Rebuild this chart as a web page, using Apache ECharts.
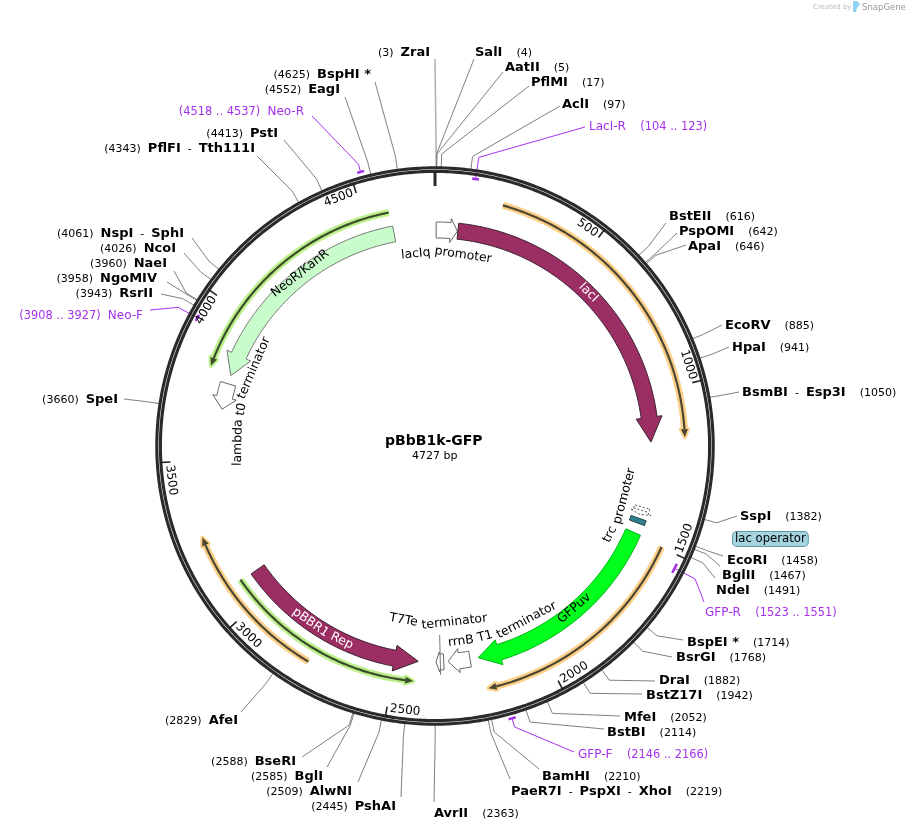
<!DOCTYPE html>
<html>
<head>
<meta charset="utf-8">
<title>pBbB1k-GFP</title>
<script src="https://cdn.jsdelivr.net/npm/echarts@6/dist/echarts.min.js"></script>
<style>
	html,body{margin:0;padding:0;background:#fff;}
	#map{width:910px;height:831px;}
</style>
</head>
<body>
<div id="map"></div>
<script type="text/javascript">
// plasmid data
var plasmidName = 'pBbB1k-GFP';
var plasmidLength = 4727;
var tickValues = [500, 1000, 1500, 2000, 2500, 3000, 3500, 4000, 4500];

var siteNames = ['ZraI', 'SalI', 'AatII', 'PflMI', 'AclI', 'BstEII', 'PspOMI', 'ApaI', 'EcoRV', 'HpaI', 'BsmBI - Esp3I', 'SspI', 'EcoRI', 'BglII', 'NdeI', 'BspEI *', 'BsrGI', 'DraI', 'BstZ17I', 'MfeI', 'BstBI', 'BamHI', 'PaeR7I - PspXI - XhoI', 'AvrII', 'PshAI', 'AlwNI', 'BglI', 'BseRI', 'AfeI', 'SpeI', 'RsrII', 'NgoMIV', 'NaeI', 'NcoI', 'NspI - SphI', 'PflFI - Tth111I', 'PstI', 'EagI', 'BspHI *'];
var sitePositions = [3, 4, 5, 17, 97, 616, 642, 646, 885, 941, 1050, 1382, 1458, 1467, 1491, 1714, 1768, 1882, 1942, 2052, 2114, 2210, 2219, 2363, 2445, 2509, 2585, 2588, 2829, 3660, 3943, 3958, 3960, 4026, 4061, 4343, 4413, 4552, 4625];

var primerNames = ['LacI-R', 'GFP-R', 'GFP-F', 'Neo-F', 'Neo-R'];
var primerStarts = [104, 1523, 2146, 3908, 4518];
var primerEnds = [123, 1551, 2166, 3927, 4537];

// from = flat end, to = arrow tip
var featureNames = ['lacIq promoter', 'lacI', 'trc promoter', 'lac operator', 'GFPuv', 'rrnB T1 terminator', 'T7Te terminator', 'pBBR1 Rep', 'lambda t0 terminator', 'NeoR/KanR'];
var featureFrom = [4, 80, 1397, 1438, 1490, 2241, 2333, 3088, 3765, 4584];
var featureTo = [78, 1168, 1424, 1455, 2212, 2318, 2360, 2422, 3674, 3795];

var orfFrom = [207, 1497, 2763, 3092, 4580];
var orfTo = [1155, 2200, 3263, 2433, 3804];

// layout, styles
var cx = 435, cy = 446, bandIn = 208, bandOut = 224, elbowR = 292;
var featureStyles = {
	'lacIq promoter': {fill: '#fff', stroke: '#666', head: 24, over: 4},
	'lacI': {fill: '#9b2e63', stroke: '#3a2030', head: 86, over: 5},
	'trc promoter': {fill: '#fff', stroke: '#555', head: 8, over: 3, dash: [2, 2]},
	'lac operator': {fill: '#31808f', stroke: '#1e3f48', head: 0, over: 0},
	'GFPuv': {fill: '#00ff1c', stroke: '#00b414', head: 75, over: 5},
	'rrnB T1 terminator': {fill: '#fff', stroke: '#666', head: 38, over: 4},
	'T7Te terminator': {fill: '#fff', stroke: '#666', head: 12, over: 2},
	'pBBR1 Rep': {fill: '#9b2e63', stroke: '#3a2030', head: 83, over: 5},
	'lambda t0 terminator': {fill: '#fff', stroke: '#666', head: 42, over: 4},
	'NeoR/KanR': {fill: '#c9fccb', stroke: '#777', head: 75, over: 5}
};
var featureLabels = {
	'lacIq promoter': {r: 193, bp: 45},
	'lacI': {r: 217, bp: 591, fill: '#fff'},
	'trc promoter': {r: 196, bp: 1416},
	'GFPuv': {r: 214, bp: 1830},
	'rrnB T1 terminator': {r: 197, bp: 2094},
	'T7Te terminator': {r: 177, bp: 2350},
	'pBBR1 Rep': {r: 216, bp: 2778, fill: '#fff'},
	'lambda t0 terminator': {r: 197, bp: 3723},
	'NeoR/KanR': {r: 219, bp: 4228}
};
var orfStyles = [
	{r: 250, halo: '#fdd08a', line: '#4d4732'},
	{r: 248, halo: '#fdd08a', line: '#4d4732'},
	{r: 250, halo: '#fdd08a', line: '#4d4732'},
	{r: 236, halo: '#bdf08c', line: '#3b4d2a'},
	{r: 238, halo: '#bdf08c', line: '#3b4d2a'}
];
// text: x, y, side (label alignment) / end: where the leader stops
var siteLayout = {
	'ZraI': {x: 430, y: 52, side: 'right', end: [435, 59]},
	'SalI': {x: 475, y: 52, side: 'left', end: [474, 59]},
	'AatII': {x: 505, y: 67, side: 'left', end: [503, 72]},
	'PflMI': {x: 531, y: 82, side: 'left', end: [529, 86]},
	'AclI': {x: 562, y: 104, side: 'left', end: [560, 106]},
	'BstEII': {x: 669, y: 216, side: 'left', end: [666, 223]},
	'PspOMI': {x: 679, y: 231, side: 'left', end: [677, 233]},
	'ApaI': {x: 688, y: 246, side: 'left', end: [686, 245]},
	'EcoRV': {x: 725, y: 325, side: 'left', end: [722, 325]},
	'HpaI': {x: 732, y: 347, side: 'left', end: [729, 347]},
	'BsmBI - Esp3I': {x: 742, y: 392, side: 'left', end: [739, 392]},
	'SspI': {x: 740, y: 516, side: 'left', end: [737, 516]},
	'EcoRI': {x: 727, y: 560, side: 'left', end: [723, 556]},
	'BglII': {x: 722, y: 575, side: 'left', end: [720, 566]},
	'NdeI': {x: 716, y: 590, side: 'left', end: [715, 578]},
	'BspEI *': {x: 687, y: 642, side: 'left', end: [683, 640]},
	'BsrGI': {x: 676, y: 657, side: 'left', end: [672, 657]},
	'DraI': {x: 659, y: 680, side: 'left', end: [655, 681]},
	'BstZ17I': {x: 646, y: 695, side: 'left', end: [642, 694]},
	'MfeI': {x: 624, y: 717, side: 'left', end: [620, 716]},
	'BstBI': {x: 607, y: 732, side: 'left', end: [604, 729]},
	'BamHI': {x: 542, y: 776, side: 'left', end: [539, 769]},
	'PaeR7I - PspXI - XhoI': {x: 511, y: 791, side: 'left', end: [510, 779]},
	'AvrII': {x: 434, y: 813, side: 'left', end: [434, 802]},
	'PshAI': {x: 396, y: 806, side: 'right', end: [401, 797]},
	'AlwNI': {x: 352, y: 791, side: 'right', end: [358, 782]},
	'BglI': {x: 323, y: 776, side: 'right', end: [327, 767]},
	'BseRI': {x: 296, y: 761, side: 'right', end: [302, 757]},
	'AfeI': {x: 238, y: 720, side: 'right', end: [241, 712]},
	'SpeI': {x: 118, y: 399, side: 'right', end: [124, 399]},
	'RsrII': {x: 153, y: 293, side: 'right', end: [161, 294]},
	'NgoMIV': {x: 157, y: 278, side: 'right', end: [167, 282]},
	'NaeI': {x: 167, y: 263, side: 'right', end: [174, 271]},
	'NcoI': {x: 176, y: 248, side: 'right', end: [184, 253]},
	'NspI - SphI': {x: 184, y: 233, side: 'right', end: [192, 238]},
	'PflFI - Tth111I': {x: 255, y: 148, side: 'right', end: [257, 156]},
	'PstI': {x: 278, y: 133, side: 'right', end: [284, 140]},
	'EagI': {x: 340, y: 89, side: 'right', end: [345, 97]},
	'BspHI *': {x: 371, y: 74, side: 'right', end: [375, 82]}
};
var primerLayout = {
	'LacI-R': {r: 270, x: 589, y: 126, side: 'left', end: [585, 127]},
	'GFP-R': {r: 269, x: 705, y: 612, side: 'left', end: [704, 602]},
	'GFP-F': {r: 283, x: 578, y: 754, side: 'left', end: [574, 752]},
	'Neo-F': {r: 270, x: 143, y: 315, side: 'right', end: [150, 310]},
	'Neo-R': {r: 284, x: 304, y: 111, side: 'right', end: [312, 116]}
};
var PURPLE = '#a431ec';

function bpAngle(bp) {
	return bp / plasmidLength * Math.PI * 2;
}
function pxToBp(px, r) {
	return px / r * plasmidLength / (Math.PI * 2);
}
function arc(api, r, from, to) {
	var n = Math.max(2, Math.ceil(Math.abs(to - from) / 8)), pts = [];
	for (var i = 0; i <= n; i++) {
		var p = api.coord([r, from + (to - from) * i / n]);
		pts.push([p[0], p[1]]);
	}
	return pts;
}
function pt(api, r, bp) {
	var p = api.coord([r, bp]);
	return [p[0], p[1]];
}
function isFlipped(bp) {
	var a = bpAngle(bp);
	return a > Math.PI / 2 && a < Math.PI * 1.5;
}
function textRotation(bp, flipped) {
	var a = bpAngle(bp);
	return flipped ? Math.PI - a : -a;
}
var measureCtx = document.createElement('canvas').getContext('2d');

// words follow the circle, one text element per word
function curvedWords(api, text, r, bp, font, fill) {
	measureCtx.font = font;
	var words = text.split(' '), space = measureCtx.measureText(' ').width;
	var widths = words.map(function (w) { return measureCtx.measureText(w).width; });
	var total = widths.reduce(function (a, b) { return a + b; }, 0) + space * (words.length - 1);
	var flipped = isFlipped(bp), dir = flipped ? -1 : 1, offset = -total / 2, out = [];
	words.forEach(function (w, i) {
		var b = bp + dir * pxToBp(offset + widths[i] / 2, r);
		var p = pt(api, r, b);
		out.push({
			type: 'text', x: p[0], y: p[1], rotation: textRotation(b, flipped), silent: true,
			style: {text: w, x: 0, y: 0, font: font, fill: fill, align: 'center', verticalAlign: 'middle'}
		});
		offset += widths[i] + space;
	});
	return out;
}

function siteRich(name, pos, side) {
	var names = name.split(' - ').map(function (n) { return '{b|' + n + '}'; }).join('  -  ');
	return side === 'right' ? '(' + pos + ')  ' + names : names + '    (' + pos + ')';
}
var siteRichStyles = {b: {font: 'bold 13px "DejaVu Sans"', fill: '#000'}};

var ringSeries = {
	type: 'custom', coordinateSystem: 'polar', silent: true, z: 5, clip: false,
	data: [[278, 0]],
	renderItem: function (params, api) {
		var full = arc(api, 278.2, 0, plasmidLength), inner = arc(api, 274.6, 0, plasmidLength);
		var ls = {stroke: '#2a2a2a', lineWidth: 3.1, fill: 'none'};
		var tip = [pt(api, 276, 0), pt(api, 260, 0)];
		return {type: 'group', children: [
			{type: 'polygon', shape: {points: full}, style: ls},
			{type: 'polygon', shape: {points: inner}, style: ls},
			{type: 'polyline', shape: {points: tip}, style: {stroke: '#2a2a2a', lineWidth: 3, fill: 'none'}}
		]};
	}
};

var tickSeries = {
	type: 'custom', coordinateSystem: 'polar', silent: true, z: 6, clip: false,
	data: tickValues.map(function (t) { return [266, t]; }),
	renderItem: function (params, api) {
		var t = tickValues[params.dataIndex], label = String(t);
		var font = '12px "DejaVu Sans"', flipped;
		measureCtx.font = font;
		var b = t - pxToBp(measureCtx.measureText(label).width / 2 + 3, 266);
		flipped = isFlipped(b);
		var p = pt(api, 266, b);
		return {type: 'group', children: [
			{type: 'polyline', shape: {points: [pt(api, 275, t), pt(api, 265, t)]}, style: {stroke: '#222', lineWidth: 1.6, fill: 'none'}},
			{type: 'text', x: p[0], y: p[1], rotation: textRotation(b, flipped), style: {text: label, x: 0, y: 0, font: font, fill: '#000', align: 'center', verticalAlign: 'middle'}}
		]};
	}
};

var siteSeries = {
	type: 'custom', coordinateSystem: 'polar', silent: true, z: 2, clip: false,
	data: sitePositions.map(function (p) { return [elbowR, p]; }),
	renderItem: function (params, api) {
		var name = siteNames[params.dataIndex], pos = sitePositions[params.dataIndex], lay = siteLayout[name];
		var main = name === 'ZraI';
		return {type: 'group', children: [
			{type: 'polyline', shape: {points: [pt(api, 279, pos), pt(api, elbowR, pos), lay.end]},
				style: {stroke: main ? '#b4b4b4' : '#808080', lineWidth: main ? 1.6 : 1, fill: 'none'}},
			{type: 'text', style: {x: lay.x, y: lay.y + 1, text: siteRich(name, pos, lay.side), rich: siteRichStyles,
				font: '11px "DejaVu Sans"', fill: '#000', align: lay.side, verticalAlign: 'middle'}}
		]};
	}
};

var primerSeries = {
	type: 'custom', coordinateSystem: 'polar', silent: true, z: 3, clip: false,
	data: primerStarts.map(function (p) { return [elbowR, p]; }),
	renderItem: function (params, api) {
		var i = params.dataIndex, name = primerNames[i], lay = primerLayout[name];
		var mid = (primerStarts[i] + primerEnds[i]) / 2;
		var range = '(' + primerStarts[i] + ' .. ' + primerEnds[i] + ')';
		var text = lay.side === 'right' ? range + '  {n|' + name + '}' : '{n|' + name + '}    ' + range;
		return {type: 'group', children: [
			{type: 'polyline', shape: {points: arc(api, lay.r, primerStarts[i], primerEnds[i])}, style: {stroke: PURPLE, lineWidth: 2.5, fill: 'none'}},
			{type: 'polyline', shape: {points: [pt(api, lay.r, mid), pt(api, elbowR, mid), lay.end]}, style: {stroke: PURPLE, lineWidth: 1, fill: 'none'}},
			{type: 'text', style: {x: lay.x, y: lay.y + 1, text: text, rich: {n: {font: '12px "DejaVu Sans"', fill: PURPLE}},
				font: '11.4px "DejaVu Sans"', fill: PURPLE, align: lay.side, verticalAlign: 'middle'}}
		]};
	}
};

var orfSeries = {
	type: 'custom', coordinateSystem: 'polar', silent: true, z: 7, clip: false,
	data: orfFrom.map(function (p, i) { return [orfStyles[i].r, p]; }),
	renderItem: function (params, api) {
		var i = params.dataIndex, s = orfStyles[i], from = orfFrom[i], to = orfTo[i];
		var dir = to > from ? 1 : -1, headLen = dir * pxToBp(8, s.r);
		var base = to - headLen;
		var head = [pt(api, s.r + 3.5, base), pt(api, s.r, to), pt(api, s.r - 3.5, base)];
		var line = arc(api, s.r, from, base);
		return {type: 'group', children: [
			{type: 'polyline', shape: {points: line}, style: {stroke: s.halo, lineWidth: 7, fill: 'none'}},
			{type: 'polygon', shape: {points: head}, style: {fill: s.line, stroke: s.halo, lineWidth: 4, lineJoin: 'round'}},
			{type: 'polyline', shape: {points: line}, style: {stroke: s.line, lineWidth: 2.2, fill: 'none'}},
			{type: 'polygon', shape: {points: head}, style: {fill: s.line}}
		]};
	}
};

var featureSeries = {
	type: 'custom', coordinateSystem: 'polar', silent: true, z: 8, clip: false,
	data: featureFrom.map(function (p) { return [bandOut, p]; }),
	renderItem: function (params, api) {
		var i = params.dataIndex, name = featureNames[i], st = featureStyles[name];
		var from = featureFrom[i], to = featureTo[i], children = [], pts;
		if (st.head) {
			var dir = to > from ? 1 : -1, base = to - dir * st.head, mid = (bandIn + bandOut) / 2;
			pts = arc(api, bandOut, from, base)
				.concat([pt(api, bandOut + st.over, base), pt(api, mid, to), pt(api, bandIn - st.over, base)])
				.concat(arc(api, bandIn, base, from));
		} else {
			pts = arc(api, bandOut, from, to).concat(arc(api, bandIn, to, from));
		}
		children.push({type: 'polygon', shape: {points: pts}, style: {fill: st.fill, stroke: st.stroke, lineWidth: 1, lineDash: st.dash || null}});
		if (name === 'T7Te terminator') {
			children.push({type: 'polyline', shape: {points: [pt(api, 189, 2345), pt(api, 229, 2345)]}, style: {stroke: '#777', lineWidth: 1, fill: 'none'}});
		}
		if (name === 'trc promoter') {
			children.push({type: 'polyline', shape: {points: [pt(api, 208, 1409), pt(api, 224, 1409)]}, style: {stroke: '#555', lineWidth: 1, lineDash: [2, 2], fill: 'none'}});
		}
		var lab = featureLabels[name];
		if (lab) {
			children = children.concat(curvedWords(api, name, lab.r, lab.bp, '12.4px "DejaVu Sans"', lab.fill || '#000'));
		}
		return {type: 'group', children: children};
	}
};

var chart = echarts.init(document.getElementById('map'), null, {renderer: 'canvas'});
chart.setOption({
	animation: false,
	backgroundColor: '#fff',
	polar: {center: [cx, cy], radius: [0, 300]},
	angleAxis: {type: 'value', min: 0, max: plasmidLength, startAngle: 90, clockwise: true, show: false},
	radiusAxis: {type: 'value', min: 0, max: 300, show: false},
	series: [siteSeries, primerSeries, ringSeries, tickSeries, orfSeries, featureSeries],
	graphic: [
		{type: 'text', left: 385, top: 434, style: {text: plasmidName, font: 'bold 14px "DejaVu Sans"', fill: '#000'}},
		{type: 'text', left: 412, top: 451, style: {text: plasmidLength + ' bp', font: '11px "DejaVu Sans"', fill: '#000'}},
		{type: 'text', left: 732, top: 531, style: {text: 'lac operator', font: '11.7px "DejaVu Sans"', fill: '#000',
			backgroundColor: '#a5d3de', borderColor: '#5b98a8', borderWidth: 1, borderRadius: 4, padding: [1, 2, 1, 2]}},
		{type: 'text', left: 813, top: 4, style: {text: 'Created by', font: '7px "DejaVu Sans"', fill: '#bbb'}},
		{type: 'polygon', shape: {points: [[853, 1], [857, 1], [860, 4], [857, 8], [856, 12], [853, 12]]}, style: {fill: '#8fd3f4'}},
		{type: 'text', left: 862, top: 3, style: {text: 'SnapGene', font: '8.5px "DejaVu Sans"', fill: '#9a9a9a'}}
	]
});
</script>
</body>
</html>
